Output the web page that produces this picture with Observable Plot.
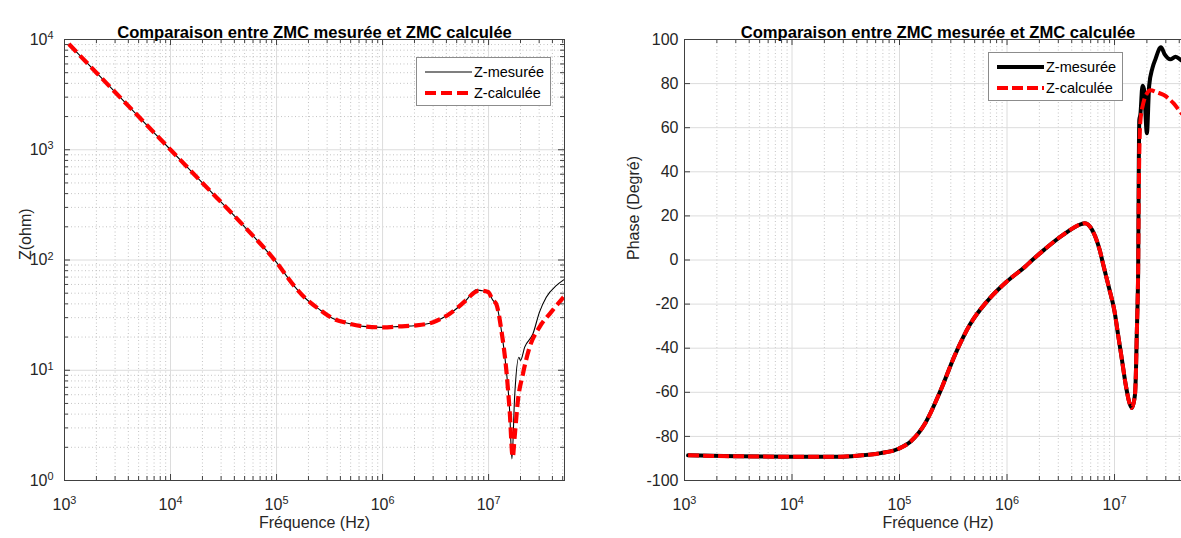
<!DOCTYPE html>
<html>
<head>
<meta charset="utf-8">
<script src="https://cdn.jsdelivr.net/npm/d3@7"></script>
<script src="https://cdn.jsdelivr.net/npm/@observablehq/plot@0.6"></script>
<style>
html,body{margin:0;padding:0;width:1181px;height:538px;overflow:hidden;background:#fff;}
.panel{position:absolute;top:0;height:538px;}
</style>
</head>
<body>
<div id="left" class="panel" style="left:0;width:600px"></div>
<div id="right" class="panel" style="left:600px;width:620px"></div>
<script>
// ---------- data ----------
const titleText = "Comparaison entre ZMC mesurée et ZMC calculée";
const seriesNames = ["Z-mesurée", "Z-calculée"];
const xLabel = "Fréquence (Hz)";
const yLabelZ = "Z(ohm)";
const yLabelPhase = "Phase (Degré)";

const freqTicks = [1e3, 1e4, 1e5, 1e6, 1e7];
const freqTickLabels = ["10^3", "10^4", "10^5", "10^6", "10^7"];
const zTicks = [1, 10, 100, 1000, 10000];
const zTickLabels = ["10^0", "10^1", "10^2", "10^3", "10^4"];
const phaseTicks = [-100, -80, -60, -40, -20, 0, 20, 40, 60, 80, 100];
const phaseTickLabels = ["-100", "-80", "-60", "-40", "-20", "0", "20", "40", "60", "80", "100"];

// Impedance magnitude (ohm)
const freqZMes = [1.1e3, 2e3, 5e3, 1e4, 2e4, 5e4, 1e5, 1.47e5, 1.87e5, 2.5e5,
  3.4e5, 4.5e5, 6.6e5, 1e6, 1.45e6, 2.08e6, 3e6, 4.3e6, 6.2e6, 7.65e6,
  8.3e6, 9.9e6, 1.1e7, 1.18e7, 1.32e7, 1.47e7, 1.58e7, 1.66e7, 1.76e7, 1.93e7,
  2.0e7, 2.19e7, 2.62e7, 3.02e7, 3.5e7, 4.37e7, 5.1e7];
const zMes = [9090, 5000, 2000, 1000, 500, 200, 95, 58, 45, 36,
  29.5, 27, 25, 24.5, 25, 25.5, 27.3, 32.6, 43.6, 53.8,
  53, 51, 43, 40, 23, 10, 4.3, 1.57, 5.7, 13.1,
  12.3, 16.2, 21.4, 33.7, 46, 58.8, 66];
const freqZCalc = [1.1e3, 2e3, 5e3, 1e4, 2e4, 5e4, 1e5, 1.47e5, 1.87e5, 2.5e5,
  3.4e5, 4.5e5, 6.6e5, 1e6, 1.45e6, 2.08e6, 3e6, 4.3e6, 6.2e6, 7.2e6,
  8.2e6, 9.9e6, 1.1e7, 1.18e7, 1.32e7, 1.47e7, 1.58e7, 1.69e7, 1.76e7, 1.89e7,
  2.11e7, 2.44e7, 3.02e7, 3.89e7, 5.1e7];
const zCalc = [9090, 5000, 2000, 1000, 500, 200, 95, 58, 45, 36,
  29.5, 27, 25, 24.5, 25, 25.5, 27.3, 32.6, 43.6, 50,
  53, 51.2, 43, 40, 23, 10, 4.3, 1.63, 2.47, 5.3,
  9.3, 16.2, 24.6, 33.7, 46];

// Phase (degrees)
const freqPhMes = [1.08e3, 3e3, 1e4, 2.8e4, 4.2e4, 6.7e4, 9.8e4, 1.27e5, 1.74e5, 2.39e5,
  3.29e5, 4.52e5, 6.73e5, 1e6, 1.49e6, 1.74e6, 2.21e6, 3.29e6, 4.9e6, 5.3e6,
  6.2e6, 7.28e6, 7.89e6, 8.87e6, 1e7, 1.08e7, 1.17e7, 1.27e7, 1.37e7, 1.45e7,
  1.55e7, 1.585e7, 1.61e7, 1.64e7, 1.66e7, 1.68e7, 1.70e7, 1.74e7, 1.82e7, 1.88e7,
  2.0e7, 2.1e7, 2.25e7, 2.4e7, 2.7e7, 2.95e7, 3.3e7, 3.7e7, 4.2e7, 5.1e7];
const phMes = [-88.6, -89, -89.2, -89.2, -88.7, -87.6, -85.6, -82.3, -73.9, -59.6,
  -42.9, -29.3, -18, -9.7, -2.8, 0.2, 4.6, 11.3, 16.3, 16.7,
  13.6, 4.5, -2.5, -12.5, -23.3, -34, -45, -56.5, -64.5, -67.1,
  -61, -49, -33.9, -18.7, -3.6, 40, 63.5, 66, 79, 77.5,
  57.5, 79, 87, 91, 96.5, 93, 91, 92.2, 90.5, 89];
const freqPhCalc = [1.08e3, 3e3, 1e4, 2.8e4, 4.2e4, 6.7e4, 9.8e4, 1.27e5, 1.74e5, 2.39e5,
  3.29e5, 4.52e5, 6.73e5, 1e6, 1.49e6, 1.74e6, 2.21e6, 3.29e6, 4.9e6, 5.3e6,
  6.2e6, 7.28e6, 7.89e6, 8.87e6, 1e7, 1.08e7, 1.17e7, 1.27e7, 1.37e7, 1.45e7,
  1.55e7, 1.585e7, 1.61e7, 1.64e7, 1.66e7, 1.69e7, 1.74e7, 1.85e7, 2.0e7, 2.16e7,
  2.5e7, 2.88e7, 3.55e7, 4.2e7, 5.1e7];
const phCalc = [-88.6, -89, -89.2, -89.2, -88.7, -87.6, -85.6, -82.3, -73.9, -59.6,
  -42.9, -29.3, -18, -9.7, -2.8, 0.2, 4.6, 11.3, 16.3, 16.7,
  13.6, 4.5, -2.5, -12.5, -23.3, -34, -45, -56.5, -64.5, -67.1,
  -61, -49, -33.9, -18.7, -3.6, 40, 63, 71, 75.5, 77,
  76, 74.8, 71, 66.5, 63.5];

// ---------- layout ----------
const FONT = "'Liberation Sans', Arial, Helvetica, sans-serif";
const H = 538, MT = 39, MB = 58;
const X_MAX = 5.2e7;
const plotH = H - MT - MB;

const zip = (xs, ys) => xs.map((f, i) => ({f, v: ys[i]}));
const labelMap = (vals, labs) => new Map(vals.map((v, i) => [v, labs[i]]));
const minorLog = (lo, hi, max) => {
  const out = [];
  for (let k = lo; k <= hi; k++) for (let m = 2; m <= 9; m++) { const v = m * Math.pow(10, k); if (v <= max) out.push(v); }
  return out;
};
const minorX = minorLog(3, 7, X_MAX);
const minorZ = minorLog(0, 3, 1e4);

const gridMinor = {stroke: "#bdbdbd", strokeDasharray: "1,2.5", strokeWidth: 0.9};
const gridMajor = {stroke: "#dcdcdc", strokeWidth: 1};
const tickCol = "#404040";
const DASH_L = "11,5", DASH_R = "11,4";

function xTickMarks(major, minor) {
  return [
    Plot.tickX(major, {x: d => d, stroke: tickCol, insetTop: plotH - 6}),
    Plot.tickX(major, {x: d => d, stroke: tickCol, insetBottom: plotH - 6}),
    Plot.tickX(minor, {x: d => d, stroke: tickCol, insetTop: plotH - 4}),
    Plot.tickX(minor, {x: d => d, stroke: tickCol, insetBottom: plotH - 4})
  ];
}
function yTickMarks(major, minor, plotW) {
  const m = [
    Plot.tickY(major, {y: d => d, stroke: tickCol, insetRight: plotW - 6}),
    Plot.tickY(major, {y: d => d, stroke: tickCol, insetLeft: plotW - 6})
  ];
  if (minor) m.push(
    Plot.tickY(minor, {y: d => d, stroke: tickCol, insetRight: plotW - 4}),
    Plot.tickY(minor, {y: d => d, stroke: tickCol, insetLeft: plotW - 4})
  );
  return m;
}

function superscriptify(svg) {
  d3.select(svg).selectAll("text").each(function () {
    const m = /^10\^(\d+)$/.exec(this.textContent);
    if (!m) return;
    const t = d3.select(this);
    t.selectAll("*").remove();
    t.text(null);
    t.append("tspan").text("10");
    t.append("tspan").attr("dy", "-0.5em").attr("font-size", "0.68em").text(m[1]);
  });
}

function addLegend(svg, x, y, mesWidth, dash) {
  const g = d3.select(svg).append("g").attr("font-family", FONT).attr("font-size", 14.5)
    .attr("text-anchor", "start");
  g.append("rect").attr("x", x + 0.5).attr("y", y + 0.5).attr("width", 134).attr("height", 48)
    .attr("fill", "#fff").attr("stroke", "#8c8c8c");
  const rows = [
    {name: seriesNames[0], stroke: "#000", w: mesWidth, dash: null, dy: 15},
    {name: seriesNames[1], stroke: "#ff0000", w: 4.2, dash: dash, dy: 36}
  ];
  for (const r of rows) {
    const ln = g.append("line").attr("x1", x + 9).attr("x2", x + 56)
      .attr("y1", y + r.dy).attr("y2", y + r.dy)
      .attr("stroke", r.stroke).attr("stroke-width", r.w).attr("stroke-linecap", "butt");
    if (r.dash) ln.attr("stroke-dasharray", r.dash);
    g.append("text").attr("x", x + 58).attr("y", y + r.dy).attr("dy", "0.35em")
      .attr("text-anchor", "start").attr("fill", "#000").text(r.name);
  }
}

// ---------- left panel: |Z| ----------
const WL = 600, MLL = 64, MRL = 36;
const plotWL = WL - MLL - MRL;
const zMap = labelMap(zTicks, zTickLabels);
const fMap = labelMap(freqTicks, freqTickLabels);

const leftPlot = Plot.plot({
  width: WL, height: H, marginTop: MT, marginBottom: MB, marginLeft: MLL, marginRight: MRL,
  style: {background: "transparent", fontFamily: FONT, fontSize: "16px", color: "#262626", overflow: "visible"},
  x: {type: "log", domain: [1e3, X_MAX]},
  y: {type: "log", domain: [1, 1e4]},
  marks: [
    Plot.ruleX(minorX, {x: d => d, ...gridMinor}),
    Plot.ruleY(minorZ, {y: d => d, ...gridMinor}),
    Plot.ruleX(freqTicks, {x: d => d, ...gridMajor}),
    Plot.ruleY(zTicks, {y: d => d, ...gridMajor}),
    Plot.line(zip(freqZMes, zMes), {x: "f", y: "v", stroke: "#000", strokeWidth: 1.1, curve: "monotone-x"}),
    Plot.line(zip(freqZCalc, zCalc), {x: "f", y: "v", stroke: "#ff0000", strokeWidth: 4.2,
      strokeDasharray: DASH_L, strokeLinecap: "butt", strokeLinejoin: "miter", curve: "monotone-x"}),
    ...xTickMarks(freqTicks, minorX),
    ...yTickMarks(zTicks, minorZ, plotWL),
    Plot.frame({stroke: "#404040"}),
    Plot.axisX(freqTicks, {tickSize: 0, tickPadding: 18, tickFormat: d => fMap.get(d), label: null}),
    Plot.axisY(zTicks, {tickSize: 0, tickPadding: 11, tickFormat: d => zMap.get(d), label: null}),
    Plot.text([xLabel], {text: d => d, frameAnchor: "bottom", dy: 47, fontSize: 16, fill: "#262626"}),
    Plot.text([yLabelZ], {text: d => d, frameAnchor: "left", dx: -39, rotate: -90, fontSize: 16, fill: "#262626"}),
    Plot.text([titleText], {text: d => d, frameAnchor: "top", dy: -13, fontSize: 16.6, fontWeight: "bold", fill: "#000"})
  ]
});
superscriptify(leftPlot);
addLegend(leftPlot, 416, 57, 1.2, DASH_L);
document.getElementById("left").appendChild(leftPlot);

// ---------- right panel: phase ----------
const WR = 620, MLR = 84, MRR = 29;
const plotWR = WR - MLR - MRR;
const pMap = labelMap(phaseTicks, phaseTickLabels);

const rightPlot = Plot.plot({
  width: WR, height: H, marginTop: MT, marginBottom: MB, marginLeft: MLR, marginRight: MRR,
  style: {background: "transparent", fontFamily: FONT, fontSize: "16px", color: "#262626", overflow: "visible"},
  x: {type: "log", domain: [1e3, X_MAX]},
  y: {type: "linear", domain: [-100, 100]},
  marks: [
    Plot.ruleX(minorX, {x: d => d, ...gridMinor}),
    Plot.ruleX(freqTicks, {x: d => d, ...gridMajor}),
    Plot.ruleY(phaseTicks, {y: d => d, ...gridMajor}),
    Plot.line(zip(freqPhMes, phMes), {x: "f", y: "v", stroke: "#000", strokeWidth: 4, curve: "monotone-x"}),
    Plot.line(zip(freqPhCalc, phCalc), {x: "f", y: "v", stroke: "#ff0000", strokeWidth: 4,
      strokeDasharray: DASH_R, strokeLinecap: "butt", strokeLinejoin: "miter", curve: "monotone-x"}),
    ...xTickMarks(freqTicks, minorX),
    ...yTickMarks(phaseTicks, null, plotWR),
    Plot.frame({stroke: "#404040"}),
    Plot.axisX(freqTicks, {tickSize: 0, tickPadding: 18, tickFormat: d => fMap.get(d), label: null}),
    Plot.axisY(phaseTicks, {tickSize: 0, tickPadding: 6, tickFormat: d => pMap.get(d), label: null}),
    Plot.text([xLabel], {text: d => d, frameAnchor: "bottom", dy: 47, fontSize: 16, fill: "#262626"}),
    Plot.text([yLabelPhase], {text: d => d, frameAnchor: "left", dx: -51, rotate: -90, fontSize: 16, fill: "#262626"}),
    Plot.text([titleText], {text: d => d, frameAnchor: "top", dy: -13, fontSize: 16.6, fontWeight: "bold", fill: "#000"})
  ]
});
superscriptify(rightPlot);
addLegend(rightPlot, 388, 52, 4.2, DASH_R);
document.getElementById("right").appendChild(rightPlot);
</script>
</body>
</html>
